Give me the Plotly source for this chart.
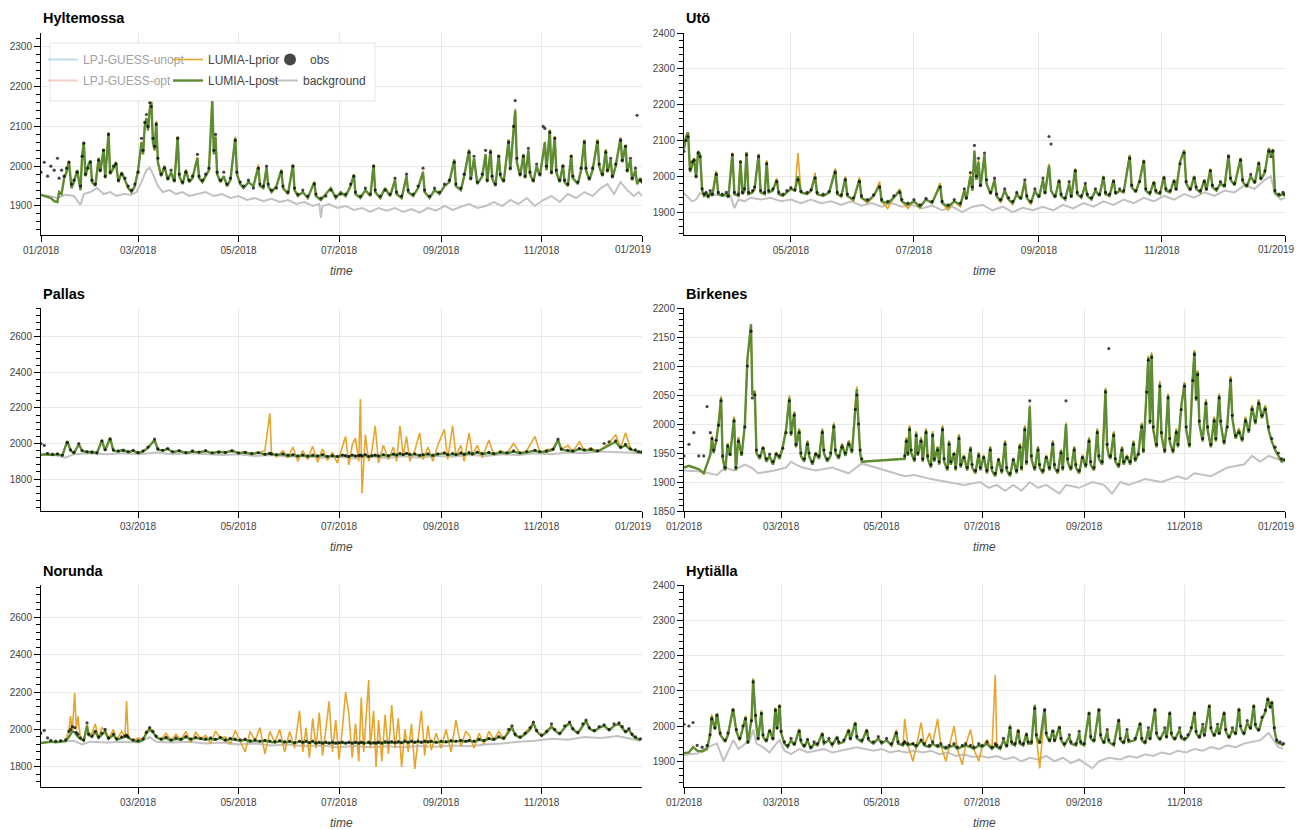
import numpy as np
import pandas as pd
import plotly.graph_objects as go

BASE = pd.Timestamp("2018-01-01")

# ---------------- Hyltemossa ----------------
hyl_days = [
    0, 2, 4, 6, 8, 10, 11, 12.5, 14, 15.5,
    17, 18.5, 20, 22, 24, 25, 26, 27, 28.5, 30,
    31, 33, 35, 36, 38, 39, 41, 42, 44, 45.5,
    47, 49, 51, 53, 55, 57, 59, 61, 62, 63,
    64, 65, 66, 67, 68, 69, 70, 71, 73, 75,
    77, 79, 81, 83, 84, 86, 88, 90, 92, 95,
    96, 98, 100, 102, 104, 105, 106, 107, 109, 111,
    113, 115, 118, 119, 121, 123, 126, 129, 132, 133,
    135, 137, 138, 140, 143, 146, 147, 150, 153, 154,
    156, 159, 162, 166, 167, 170, 173, 176, 179, 182,
    185, 188, 190, 191, 194, 197, 200, 202, 203, 206,
    209, 212, 215, 216, 219, 222, 223, 226, 229, 232,
    233, 236, 239, 242, 245, 248, 251, 252, 255, 257,
    260, 261, 263, 265, 268, 270, 271, 273, 274, 276,
    278, 279, 281, 284, 285, 287, 288, 289, 291, 293,
    294, 296, 297, 299, 301, 303, 305, 306, 307, 309,
    310, 312, 313, 315, 317, 318, 320, 322, 323, 326,
    328, 330, 331, 333, 335, 338, 339, 341, 343, 344,
    346, 347, 349, 352, 353, 355, 356, 358, 359, 361,
    362, 364, 365]
hyl_post = [
    1928, 1925, 1922, 1920, 1912, 1910, 1935, 1930, 1968, 1985,
    2011, 1945, 1960, 1990, 1940, 2028, 2060, 1975, 2000, 2015,
    1960, 1950, 2020, 1985, 2043, 1970, 2084, 1980, 1995, 2010,
    1960, 1985, 1965, 1945, 1935, 1950, 1990, 2060, 2030, 2100,
    2120, 2090, 2141, 2162, 2060, 2040, 2111, 2010, 1975, 2000,
    1965, 1985, 1960, 2074, 1975, 1955, 1990, 1960, 1970, 2021,
    1970, 1960, 1975, 1990, 2167, 2030, 2074, 1980, 1960, 1975,
    1950, 1965, 2071, 1980, 1955, 1945, 1960, 1950, 1998, 1950,
    1945, 1996, 1950, 1935, 1950, 1990, 1945, 1930, 2003, 1940,
    1925, 1935, 1920, 1960, 1925, 1915, 1930, 1945, 1920, 1935,
    1925, 1950, 1978, 1930, 1920, 1940, 1925, 2003, 1935, 1920,
    1945, 1925, 1965, 1930, 1920, 1975, 1935, 1925, 1945, 1985,
    1935, 1920, 1940, 1930, 1950, 1960, 2016, 1950, 1940, 1975,
    2041, 1965, 2020, 1955, 1975, 2030, 1960, 2041, 1970, 1950,
    2028, 1975, 1960, 2066, 1990, 2080, 2140, 2010, 1975, 2030,
    1970, 2040, 1980, 1960, 2000, 1975, 2040, 2060, 1990, 2091,
    1980, 2074, 1985, 1960, 2003, 1960, 1950, 2028, 1970, 1955,
    1990, 2066, 1990, 1965, 1990, 2066, 2000, 1975, 2041, 1985,
    2016, 1970, 2000, 2071, 2010, 2053, 1985, 2016, 1965, 1990,
    1955, 1970, 1960]
hyl_prior = [
    1928, 1925, 1922, 1920, 1912, 1910, 1935, 1930, 1968, 1990,
    2015, 1945, 1962, 1990, 1940, 2030, 2062, 1975, 2002, 2015,
    1960, 1952, 2022, 1985, 2045, 1970, 2086, 1980, 1995, 2012,
    1960, 1985, 1965, 1945, 1935, 1950, 1992, 2062, 2030, 2100,
    2122, 2090, 2145, 2165, 2060, 2040, 2114, 2010, 1975, 2002,
    1965, 1985, 1960, 2076, 1975, 1955, 1992, 1960, 1970, 2023,
    1970, 1960, 1975, 1990, 2170, 2030, 2076, 1980, 1960, 1975,
    1950, 1965, 2074, 1980, 1955, 1945, 1960, 1950, 2005, 1950,
    1945, 1998, 1950, 1935, 1950, 1992, 1945, 1930, 2005, 1940,
    1925, 1935, 1920, 1962, 1925, 1915, 1930, 1945, 1920, 1935,
    1925, 1950, 1980, 1930, 1920, 1940, 1925, 2005, 1935, 1920,
    1945, 1925, 1967, 1930, 1920, 1977, 1935, 1925, 1945, 1988,
    1935, 1920, 1940, 1930, 1950, 1960, 2018, 1950, 1940, 1975,
    2043, 1965, 2020, 1955, 1975, 2030, 1960, 2043, 1970, 1950,
    2030, 1975, 1960, 2068, 1990, 2080, 2145, 2010, 1975, 2030,
    1970, 2040, 1980, 1960, 2000, 1975, 2040, 2062, 1990, 2093,
    1980, 2076, 1985, 1960, 2005, 1960, 1950, 2030, 1970, 1955,
    1990, 2068, 1990, 1965, 1990, 2068, 2000, 1975, 2043, 1985,
    2016, 1970, 2000, 2073, 2010, 2055, 1985, 2016, 1965, 1990,
    1955, 1970, 1960]
hyl_obs = [
    1985, 2010, 1975, 2000, 1990, 2020, 1970, 1990, 1975, 1995,
    2010, 1955, 1965, 1985, 1950, 2025, 2058, 1980, 1995, 2010,
    1965, 1955, 2015, 1990, 2040, 1975, 2080, 1985, 2000, 2005,
    1965, 1980, 1970, 1950, 1940, 1955, 1985, 2070, 2040, 2110,
    2130, 2100, 2160, 2150, 2070, 2050, 2105, 2020, 1980, 1995,
    1970, 1990, 1965, 2070, 1980, 1960, 1985, 1965, 1975, 2030,
    1975, 1965, 1980, 1995, 2165, 2040, 2080, 1985, 1965, 1985,
    1955, 1970, 2065, 1985, 1960, 1950, 1965, 1945, 1995, 1955,
    1950, 2000, 1955, 1940, 1945, 1985, 1950, 1935, 2000, 1945,
    1930, 1940, 1925, 1955, 1930, 1920, 1925, 1940, 1925, 1930,
    1930, 1955, 1975, 1935, 1925, 1945, 1930, 2000, 1940, 1925,
    1940, 1930, 1970, 1935, 1925, 1980, 1940, 1930, 1950, 1995,
    1940, 1925, 1945, 1935, 1955, 1965, 2010, 1955, 1945, 1980,
    2035, 1970, 2025, 1960, 1980, 2040, 1965, 2035, 1975, 1955,
    2025, 1980, 1965, 2060, 1995, 2100, 2165, 2020, 1980, 2025,
    1975, 2045, 1985, 1965, 2005, 1980, 2100, 2095, 2000, 2085,
    1985, 2070, 1990, 1965, 2000, 1965, 1955, 2025, 1975, 1960,
    1995, 2060, 1995, 1970, 1995, 2060, 2005, 1980, 2035, 1990,
    2020, 1975, 2005, 2065, 2015, 2050, 1990, 2020, 1970, 1995,
    2128, 1965, 1960]
hyl_bg_days = [
    0, 5, 10, 15, 20, 24, 26, 30, 34, 38,
    42, 46, 50, 55, 58, 61, 64, 66, 68, 71,
    74, 78, 82, 86, 90, 95, 100, 105, 110, 115,
    120, 125, 130, 135, 140, 145, 150, 155, 160, 165,
    169, 170, 171, 175, 180, 185, 190, 195, 200, 205,
    210, 215, 220, 225, 230, 235, 240, 245, 250, 255,
    260, 265, 270, 275, 280, 285, 290, 295, 300, 305,
    310, 315, 320, 325, 330, 335, 340, 344, 348, 352,
    356, 360, 363, 365]
hyl_bg = [
    1928, 1925, 1920, 1928, 1925, 1903, 1930, 1935, 1945, 1930,
    1935, 1925, 1930, 1928, 1935, 1960, 1990, 1996, 1980, 1950,
    1935, 1940, 1930, 1935, 1925, 1930, 1935, 1925, 1930, 1920,
    1925, 1915, 1920, 1912, 1918, 1910, 1915, 1905, 1910, 1900,
    1905, 1870, 1900, 1905, 1895, 1900, 1890, 1895, 1885, 1895,
    1888, 1895, 1885, 1892, 1883, 1895, 1888, 1900, 1890, 1898,
    1905, 1895, 1900, 1910, 1900, 1915, 1905, 1920, 1900, 1915,
    1925, 1910, 1930, 1920, 1935, 1925, 1945, 1955, 1930, 1960,
    1940, 1925, 1935, 1925]

# ---------------- Utö ----------------
uto_days = [
    67, 68, 69, 70, 71, 72, 73, 74, 75, 76,
    77, 78, 79, 80, 81, 83, 84, 86, 88, 89,
    91, 92, 94, 95, 96, 97, 98, 99, 101, 102,
    104, 105, 107, 108, 109, 111, 113, 114, 116, 118,
    120, 122, 123.5, 125, 128, 130, 132, 133, 136, 139,
    142, 143, 145, 147, 148, 151, 154, 155, 158, 161,
    164, 165, 168, 171, 174, 175, 178, 181, 184, 187,
    190, 194, 195, 198, 201, 204, 206, 207, 209, 210,
    211, 212, 213, 214, 216, 217, 219, 221, 222, 224,
    226, 228, 230, 232, 234, 236, 237, 239, 241, 243,
    245, 246, 248, 249, 251, 253, 254, 256, 258, 259,
    261, 262, 264, 266, 267, 269, 271, 273, 275, 276,
    278, 280, 281, 283, 285, 288, 289, 291, 293, 295,
    296, 298, 300, 301, 303, 305, 306, 308, 310, 311,
    313, 315, 316, 318, 320, 321, 323, 325, 326, 328,
    329, 331, 333, 335, 337, 338, 340, 343, 344, 346,
    348, 350, 352, 353, 355, 357, 358, 359, 360, 362,
    364, 365]
uto_post = [
    2077, 2110, 2123, 2012, 2030, 2050, 1995, 2070, 2060, 1960,
    1945, 1950, 1940, 1955, 1945, 2011, 1950, 1945, 1950, 1940,
    2064, 1950, 1945, 2042, 1950, 1960, 2067, 1950, 1955, 1965,
    2061, 1955, 1950, 2040, 1955, 1960, 1990, 1950, 1945, 1955,
    1965, 1960, 2000, 1955, 1950, 1960, 2000, 1950, 1945, 1955,
    2017, 1950, 1945, 1995, 1945, 1935, 1990, 1940, 1930, 1945,
    1975, 1930, 1925, 1940, 1960, 1930, 1920, 1930, 1915, 1935,
    1925, 1975, 1925, 1915, 1930, 1920, 1960, 1935, 2000, 1960,
    2072, 1990, 2040, 1970, 2060, 1980, 1950, 1990, 1945, 1930,
    1960, 1935, 1925, 1950, 1935, 1985, 1940, 1925, 1960, 1940,
    1990, 1950, 2030, 1960, 1940, 1990, 1945, 1935, 1980, 1940,
    2020, 1950, 1940, 1975, 1945, 1935, 1960, 1945, 2000, 1950,
    1945, 1990, 1950, 1960, 1955, 2058, 1970, 1955, 1990, 2045,
    1960, 1950, 1985, 1955, 1950, 2000, 1960, 1955, 1990, 1960,
    2040, 2072, 1980, 1960, 2000, 1965, 1955, 1990, 1960, 2020,
    1970, 1960, 1980, 1970, 2060, 1990, 1975, 2050, 1985, 1970,
    2000, 1980, 2040, 1990, 2010, 2078, 2060, 2075, 1955, 1945,
    1950, 1945]
uto_prior = [
    2077, 2110, 2123, 2012, 2030, 2050, 1995, 2070, 2060, 1960,
    1945, 1950, 1940, 1955, 1945, 2015, 1950, 1945, 1950, 1940,
    2066, 1950, 1945, 2045, 1950, 1960, 2068, 1950, 1955, 1965,
    2063, 1955, 1950, 2045, 1955, 1960, 1995, 1950, 1945, 1955,
    1965, 1960, 2065, 1955, 1950, 1960, 2010, 1950, 1945, 1955,
    2022, 1950, 1940, 2000, 1945, 1930, 1998, 1940, 1925, 1945,
    1985, 1930, 1910, 1940, 1965, 1930, 1910, 1930, 1910, 1935,
    1925, 1982, 1925, 1905, 1930, 1915, 1965, 1935, 2005, 1960,
    2070, 1990, 2045, 1970, 2062, 1980, 1950, 1995, 1945, 1925,
    1962, 1935, 1920, 1955, 1935, 1990, 1940, 1920, 1962, 1940,
    1992, 1950, 2035, 1960, 1940, 1992, 1945, 1935, 1982, 1940,
    2022, 1950, 1940, 1978, 1945, 1935, 1962, 1945, 2002, 1950,
    1945, 1992, 1950, 1960, 1955, 2060, 1970, 1955, 1992, 2047,
    1960, 1950, 1987, 1955, 1950, 2002, 1960, 1955, 1992, 1960,
    2042, 2074, 1980, 1960, 2002, 1965, 1955, 1992, 1960, 2022,
    1970, 1960, 1982, 1970, 2062, 1990, 1975, 2052, 1985, 1970,
    2002, 1980, 2042, 1990, 2012, 2080, 2060, 2077, 1955, 1945,
    1950, 1945]
uto_obs = [
    2070, 2100, 2110, 2020, 2040, 2045, 2000, 2065, 2055, 1965,
    1950, 1955, 1945, 1960, 1950, 2005, 1955, 1950, 1955, 1945,
    2060, 1955, 1950, 2040, 1955, 1965, 2060, 1955, 1960, 1970,
    2055, 1960, 1955, 2035, 1960, 1965, 1985, 1955, 1950, 1960,
    1968, 1962, 1990, 1958, 1955, 1962, 1995, 1955, 1950, 1958,
    2010, 1955, 1948, 1990, 1950, 1940, 1985, 1945, 1935, 1948,
    1970, 1935, 1930, 1945, 1955, 1935, 1925, 1935, 1920, 1938,
    1930, 1970, 1930, 1920, 1935, 1925, 1965, 1940, 2010, 1970,
    2086, 2000, 2050, 1975, 2065, 1990, 1955, 1995, 1950, 1935,
    1965, 1940, 1930, 1955, 1940, 1990, 1945, 1930, 1965, 1945,
    1995, 1955, 2111, 2090, 1945, 1985, 1950, 1940, 1985, 1945,
    2015, 1955, 1945, 1980, 1950, 1940, 1965, 1950, 1995, 1955,
    1950, 1985, 1955, 1965, 1960, 2050, 1975, 1960, 1985, 2040,
    1965, 1955, 1980, 1960, 1955, 1995, 1965, 1960, 1985, 1965,
    2035, 2065, 1985, 1965, 1995, 1970, 1960, 1985, 1965, 2015,
    1975, 1965, 1985, 1975, 2055, 1995, 1980, 2045, 1990, 1975,
    2005, 1985, 2035, 1995, 2015, 2070, 2055, 2070, 1960, 1950,
    1955, 1950]
uto_bg_days = [
    67, 69, 71, 73, 75, 80, 85, 90, 92, 94,
    97, 100, 105, 110, 115, 120, 125, 130, 135, 140,
    145, 150, 155, 160, 165, 170, 175, 180, 185, 190,
    195, 200, 205, 210, 215, 220, 225, 230, 235, 240,
    245, 250, 255, 260, 265, 270, 275, 280, 285, 290,
    295, 300, 305, 310, 315, 320, 325, 330, 335, 340,
    345, 350, 355, 358, 360, 363, 365]
uto_bg = [
    1953, 1940, 1930, 1935, 1953, 1950, 1948, 1945, 1911, 1935,
    1930, 1940, 1935, 1940, 1930, 1935, 1925, 1935, 1925, 1930,
    1920, 1930, 1918, 1925, 1915, 1925, 1915, 1920, 1910, 1918,
    1905, 1915, 1900, 1915, 1920, 1905, 1915, 1900, 1912, 1905,
    1915, 1905, 1920, 1910, 1925, 1915, 1930, 1920, 1935, 1925,
    1940, 1930, 1945, 1935, 1950, 1940, 1955, 1945, 1960, 1955,
    1975, 1965, 1990, 2000, 1950, 1935, 1940]

# ---------------- Pallas ----------------
pal_days = [
    0, 2, 4, 7, 10, 13, 16, 18, 20, 23,
    25, 28, 31, 34, 37, 39, 42, 44, 47, 50,
    53, 56, 59, 62, 65, 69, 71, 74, 77, 80,
    84, 88, 92, 96, 100, 104, 108, 112, 116, 120,
    124, 128, 132, 136, 139, 140, 143, 147, 150, 153,
    156, 159, 162, 165, 168, 171, 174, 177, 180, 183,
    185, 187, 189, 191, 193, 194, 195, 197, 199, 201,
    203, 205, 208, 211, 214, 216, 218, 220, 222, 224,
    227, 230, 232, 235, 238, 241, 245, 247, 250, 252,
    255, 257, 260, 262, 265, 268, 272, 275, 279, 283,
    287, 291, 295, 300, 303, 307, 311, 314, 316, 320,
    323, 327, 330, 334, 338, 342, 345, 349, 352, 355,
    358, 361, 363, 365]
pal_post = [
    1935, 1940, 1938, 1935, 1940, 1932, 2014, 1960, 1945, 1995,
    1960, 1950, 1955, 1945, 2018, 1960, 2031, 1960, 1955, 1965,
    1950, 1960, 1945, 1955, 1975, 2020, 1965, 1960, 1970, 1950,
    1960, 1945, 1955, 1950, 1958, 1945, 1955, 1948, 1960, 1945,
    1950, 1940, 1950, 1938, 1945, 1940, 1935, 1940, 1930, 1935,
    1928, 1935, 1925, 1932, 1928, 1935, 1925, 1930, 1925, 1935,
    1930, 1925, 1935, 1928, 1930, 1935, 1930, 1935, 1925, 1930,
    1935, 1928, 1935, 1930, 1940, 1935, 1940, 1935, 1945, 1935,
    1940, 1930, 1935, 1940, 1930, 1940, 1945, 1935, 1940, 1935,
    1945, 1938, 1945, 1940, 1950, 1940, 1948, 1940, 1950, 1945,
    1955, 1945, 1950, 1960, 1950, 1955, 1965, 2020, 1965, 1960,
    1955, 1970, 1960, 1965, 1955, 1975, 1990, 2010, 1975, 1990,
    1965, 1960, 1950, 1955]
pal_prior = [
    1935, 1940, 1938, 1935, 1940, 1932, 2016, 1960, 1945, 1997,
    1960, 1950, 1955, 1945, 2020, 1960, 2033, 1960, 1955, 1965,
    1950, 1960, 1945, 1955, 1975, 2022, 1965, 1960, 1970, 1950,
    1960, 1945, 1955, 1950, 1958, 1945, 1955, 1948, 1962, 1945,
    1955, 1940, 1945, 1960, 2170, 1950, 1925, 1960, 1920, 1980,
    1900, 1960, 1910, 1985, 1895, 1970, 1905, 1950, 1890, 1975,
    2040, 1880, 1990, 2030, 1900, 2250, 1720, 2050, 1900, 1960,
    2100, 1890, 1990, 1910, 1980, 1900, 2100, 1930, 2040, 1900,
    1960, 2060, 1910, 1980, 1900, 1990, 2080, 1910, 2100, 1930,
    1990, 1900, 2060, 1935, 1990, 1920, 2020, 1935, 1960, 1945,
    2000, 1945, 1960, 2040, 1950, 1965, 1970, 2025, 1965, 1990,
    1955, 2010, 1960, 1975, 1955, 1980, 2000, 2050, 1975, 2060,
    1970, 1960, 1950, 1955]
pal_obs = [
    2000, 1990, 1945, 1940, 1942, 1935, 2005, 1965, 1950, 2000,
    1960, 1955, 1950, 1948, 2015, 1965, 2025, 1965, 1958, 1960,
    1955, 1962, 1950, 1958, 1980, 2025, 1970, 1962, 1972, 1955,
    1958, 1950, 1958, 1952, 1960, 1948, 1950, 1950, 1958, 1948,
    1950, 1945, 1948, 1940, 1945, 1942, 1938, 1942, 1935, 1938,
    1930, 1935, 1930, 1935, 1930, 1938, 1928, 1932, 1928, 1935,
    1932, 1928, 1935, 1930, 1932, 1935, 1930, 1938, 1928, 1932,
    1935, 1930, 1938, 1932, 1940, 1935, 1945, 1938, 1945, 1940,
    1942, 1935, 1938, 1942, 1935, 1942, 1948, 1938, 1945, 1938,
    1948, 1940, 1950, 1942, 1952, 1945, 1950, 1945, 1952, 1948,
    1958, 1948, 1955, 1962, 1955, 1958, 1968, 2025, 1970, 1962,
    1958, 1972, 1965, 1968, 1960, 2000, 2010, 2015, 1980, 1995,
    1970, 1965, 1955, 1950]
pal_bg_days = [
    0, 8, 15, 20, 30, 40, 50, 60, 70, 80,
    90, 100, 110, 120, 130, 140, 150, 160, 170, 180,
    190, 200, 210, 220, 230, 240, 250, 260, 270, 280,
    290, 300, 310, 320, 330, 340, 350, 360, 365]
pal_bg = [
    1935, 1935, 1920, 1940, 1945, 1940, 1945, 1940, 1950, 1940,
    1945, 1940, 1935, 1940, 1930, 1935, 1925, 1930, 1920, 1925,
    1915, 1925, 1918, 1928, 1920, 1930, 1925, 1935, 1930, 1940,
    1935, 1945, 1940, 1950, 1945, 1955, 1950, 1945, 1945]

# ---------------- Birkenes ----------------
bir_days = [
    0, 3, 6, 9, 12, 14, 16, 17, 18, 19.5,
    21, 22.5, 23.5, 25, 26.5, 28, 30.4, 31.5, 33, 35,
    37, 38.5, 40.7, 41.5, 43, 44, 46, 48, 50, 52,
    54, 56, 58, 60, 62, 64, 65, 67, 68, 70,
    71, 73, 75, 76, 78, 80, 82, 84, 85, 87,
    89, 91, 92, 94, 96, 98, 100, 102, 104, 105,
    106, 107, 108, 134, 135, 136, 137, 138, 140, 141,
    142, 144, 145, 147, 148, 150, 151, 152, 154, 155,
    157, 158, 160, 161, 162, 164, 165, 167, 168, 170,
    172, 174, 175, 177, 179, 180, 182, 184, 186, 187,
    189, 191, 193, 195, 196, 198, 200, 202, 204, 205,
    207, 208, 210, 211, 213, 215, 216, 218, 220, 222,
    224, 225, 227, 229, 230, 232, 233, 235, 237, 238,
    240, 242, 244, 246, 247, 249, 251, 252, 254, 256,
    257, 258, 259, 261, 262, 264, 266, 267, 269, 271,
    273, 274, 276, 278, 279, 281, 282, 283, 284, 285,
    287, 289, 290, 292, 294, 295, 297, 299, 300, 302,
    304, 305, 307, 309, 310, 311, 312, 313, 315, 317,
    318, 320, 322, 323, 325, 326, 328, 330, 332, 333,
    335, 337, 339, 341, 343, 345, 347, 349, 351, 353,
    355, 357, 359, 361, 363, 365]
bir_post = [
    1925, 1928, 1925, 1922, 1915, 1930, 1947, 1976, 1950, 1970,
    2000, 2045, 1941, 1920, 1965, 1945, 2010, 1920, 1975, 1945,
    2000, 2112, 2172, 2050, 2056, 1950, 1940, 1960, 1935, 1945,
    1930, 1950, 1940, 1960, 1990, 2045, 1980, 2020, 1960, 1990,
    1945, 1935, 1970, 1945, 1930, 1950, 1940, 1990, 1950, 1935,
    1945, 2000, 1950, 1940, 1965, 1945, 1970, 1950, 2030, 2060,
    2000, 1950, 1935, 1940, 1975, 1945, 1995, 1950, 1935, 1985,
    1945, 1975, 1935, 1990, 1940, 1925, 1985, 1935, 1960, 1930,
    1995, 1935, 1920, 1970, 1930, 1950, 1920, 1980, 1925, 1945,
    1920, 1960, 1925, 1915, 1950, 1920, 1945, 1915, 1960, 1920,
    1910, 1940, 1915, 1970, 1920, 1910, 1940, 1915, 1965, 1920,
    1995, 1930, 2030, 1940, 1920, 1960, 1925, 1915, 1945, 1920,
    1970, 1925, 1915, 1955, 1920, 2000, 1935, 1920, 1960, 1925,
    1915, 1945, 1925, 1975, 1930, 1920, 1990, 1940, 1930, 2060,
    1960, 1945, 1940, 1985, 1935, 1925, 1960, 1930, 1945, 1930,
    1970, 1935, 1950, 2000, 1950, 2060, 2115, 2000, 2120, 1990,
    1960, 2070, 1980, 1950, 2050, 1970, 1950, 1990, 1960, 2030,
    2070, 1990, 1960, 2080, 2125, 2040, 2090, 2000, 1970, 2040,
    1990, 1960, 2010, 1970, 2050, 2000, 1965, 2000, 2080, 2010,
    1975, 1990, 1970, 2010, 1985, 2030, 2000, 2040, 2010, 2030,
    1990, 1970, 1955, 1945, 1935, 1940]
bir_prior = [
    1925, 1928, 1925, 1922, 1915, 1930, 1950, 1980, 1950, 1972,
    2003, 2048, 1941, 1920, 1968, 1945, 2013, 1920, 1978, 1945,
    2003, 2108, 2168, 2050, 2058, 1950, 1940, 1962, 1935, 1945,
    1930, 1952, 1940, 1962, 1993, 2050, 1980, 2022, 1960, 1993,
    1945, 1935, 1972, 1945, 1930, 1952, 1940, 1993, 1950, 1935,
    1945, 2003, 1950, 1940, 1967, 1945, 1972, 1950, 2035, 2065,
    2000, 1950, 1935, 1940, 1978, 1945, 1998, 1950, 1935, 1988,
    1945, 1978, 1935, 1993, 1940, 1925, 1988, 1935, 1962, 1930,
    1998, 1935, 1920, 1972, 1930, 1952, 1920, 1983, 1925, 1947,
    1920, 1962, 1925, 1915, 1952, 1920, 1947, 1915, 1962, 1920,
    1910, 1942, 1915, 1972, 1920, 1910, 1942, 1915, 1967, 1920,
    1998, 1930, 2033, 1940, 1920, 1962, 1925, 1915, 1947, 1920,
    1972, 1925, 1915, 1957, 1920, 2003, 1935, 1920, 1962, 1925,
    1915, 1947, 1925, 1978, 1930, 1920, 1993, 1940, 1930, 2063,
    1960, 1945, 1940, 1988, 1935, 1925, 1962, 1930, 1947, 1930,
    1972, 1935, 1952, 2003, 1950, 2063, 2118, 2000, 2124, 1990,
    1960, 2075, 1980, 1950, 2053, 1970, 1950, 1993, 1960, 2033,
    2073, 1990, 1960, 2083, 2128, 2040, 2093, 2000, 1970, 2043,
    1990, 1960, 2013, 1970, 2053, 2000, 1965, 2003, 2083, 2010,
    1975, 1993, 1970, 2013, 1985, 2033, 2000, 2043, 2010, 2033,
    1990, 1970, 1955, 1945, 1935, 1940]
bir_obs = [
    1945, 1965, 1985, 1945, 1945, 2030, 1985, 1975, 1955, 1972,
    1998, 2040, 1945, 1925, 1962, 1948, 2005, 1925, 1970, 1950,
    1995, 2100, 2160, 2045, 2050, 1955, 1945, 1958, 1940, 1948,
    1935, 1948, 1945, 1958, 1985, 2040, 1985, 2015, 1965, 1985,
    1950, 1940, 1965, 1950, 1935, 1948, 1945, 1985, 1955, 1940,
    1950, 1995, 1955, 1945, 1960, 1950, 1965, 1955, 2025, 2050,
    2000, 1955, 1940, 1945, 1970, 1950, 1990, 1955, 1940, 1980,
    1950, 1970, 1940, 1985, 1945, 1930, 1980, 1940, 1955, 1935,
    1990, 1940, 1925, 1965, 1935, 1948, 1925, 1975, 1930, 1942,
    1925, 1955, 1930, 1920, 1945, 1925, 1942, 1920, 1955, 1925,
    1915, 1938, 1920, 1965, 1925, 1915, 1938, 1920, 1960, 1925,
    1990, 1935, 2040, 1945, 1925, 1955, 1930, 1920, 1942, 1925,
    1965, 1930, 1920, 1950, 1925, 2040, 1940, 1925, 1955, 1930,
    1920, 1942, 1930, 1970, 1935, 1925, 1985, 1945, 1935, 2055,
    1965, 2130, 1945, 1980, 1940, 1930, 1955, 1935, 1942, 1935,
    1965, 1940, 1948, 1995, 1955, 2055, 2110, 2005, 2115, 1995,
    1965, 2065, 1985, 1955, 2045, 1975, 1955, 1985, 1965, 2025,
    2065, 1995, 1965, 2075, 2120, 2045, 2085, 2005, 1975, 2035,
    1995, 1965, 2005, 1975, 2045, 2005, 1970, 1995, 2075, 2015,
    1980, 1985, 1975, 2005, 1990, 2025, 2005, 2035, 2015, 2025,
    1995, 1975, 1960, 1950, 1940, 1938]
bir_bg_days = [
    0, 10, 20, 25, 30, 37, 41, 45, 55, 62,
    65, 68, 72, 80, 90, 100, 108, 134, 140, 150,
    160, 170, 180, 185, 190, 195, 200, 205, 210, 215,
    220, 225, 228, 232, 240, 248, 255, 260, 265, 270,
    280, 290, 300, 305, 310, 320, 330, 340, 345, 350,
    355, 360, 365]
bir_bg = [
    1920, 1918, 1912, 1925, 1920, 1930, 1925, 1915, 1920, 1925,
    1935, 1930, 1925, 1920, 1925, 1915, 1932, 1910, 1912, 1905,
    1900, 1895, 1900, 1890, 1895, 1885, 1895, 1885, 1900, 1890,
    1895, 1885, 1880, 1895, 1890, 1900, 1895, 1880, 1900, 1895,
    1905, 1900, 1910, 1905, 1915, 1910, 1925, 1930, 1945, 1935,
    1945, 1940, 1935]

# ---------------- Norunda ----------------
nor_days = [
    0, 2, 4, 6, 9, 12, 15, 17, 18, 19,
    20.5, 21.5, 22.5, 24, 26, 28, 29, 31, 33, 35,
    37, 39, 41, 44, 46, 49, 51, 52, 53, 56,
    59, 62, 64, 66, 68, 70, 73, 76, 79, 82,
    85, 88, 91, 94, 97, 100, 103, 106, 109, 112,
    115, 118, 121, 124, 127, 130, 133, 136, 139, 142,
    145, 148, 151, 154, 157, 159, 161, 163, 165, 167,
    169, 171, 173, 175, 177, 179, 181, 183, 185, 187,
    189, 191, 193, 194.5, 196, 199, 200, 202, 203.5, 205,
    207, 209, 211, 213, 215, 217, 219, 221, 223, 225,
    227, 229, 231, 233, 235, 237, 240, 243, 246, 249,
    252, 255, 258, 260, 263, 266, 269, 272, 275, 278,
    281, 284, 286, 288, 291, 294, 297, 299, 301, 304,
    307, 310, 312, 315, 318, 321, 323, 326, 329, 331,
    333, 336, 339, 342, 345, 348, 351, 353, 355, 357,
    359, 361, 364]
nor_post = [
    1928, 1930, 1935, 1935, 1932, 1935, 1938, 1960, 1975, 1990,
    1985, 1970, 1960, 1950, 1940, 2020, 1970, 1960, 1990, 1955,
    1975, 1990, 1950, 1970, 1945, 1955, 1960, 1965, 1955, 1940,
    1935, 1945, 1980, 2000, 1985, 1960, 1945, 1955, 1940, 1950,
    1945, 1960, 1945, 1955, 1950, 1945, 1950, 1945, 1955, 1940,
    1950, 1945, 1940, 1945, 1935, 1940, 1935, 1940, 1935, 1930,
    1938, 1930, 1935, 1928, 1935, 1930, 1935, 1928, 1935, 1925,
    1930, 1925, 1930, 1925, 1930, 1925, 1928, 1930, 1925, 1930,
    1925, 1930, 1925, 1930, 1925, 1930, 1925, 1928, 1925, 1930,
    1925, 1930, 1928, 1932, 1928, 1932, 1928, 1935, 1930, 1935,
    1930, 1935, 1930, 1935, 1932, 1935, 1930, 1935, 1932, 1938,
    1935, 1940, 1935, 1940, 1935, 1945, 1940, 1950, 1945, 1960,
    1950, 1990, 2010, 1970, 1955, 1975, 2000, 2035, 1990, 1965,
    1985, 2015, 1995, 1975, 2010, 2035, 2000, 1980, 2020, 2045,
    2005, 1990, 2010, 2020, 1995, 2020, 2030, 2010, 1985, 2000,
    1970, 1955, 1945]
nor_prior = [
    1928, 1930, 1935, 1935, 1932, 1935, 1940, 2000, 2072, 1980,
    2195, 2000, 2070, 1950, 1940, 2025, 1970, 1980, 2030, 1955,
    2010, 1995, 1950, 2000, 1945, 1990, 1960, 2150, 1960, 1940,
    1955, 1945, 1990, 2010, 1990, 1960, 1945, 1980, 1940, 1975,
    1945, 1990, 1930, 1985, 1950, 1970, 1925, 1990, 1955, 1960,
    1920, 1995, 1940, 1880, 1990, 1940, 2010, 1870, 1990, 1930,
    2000, 1880, 1990, 1900, 2100, 1880, 2010, 1850, 2060, 1900,
    2090, 1860, 2000, 2150, 1880, 2050, 1840, 2000, 2200, 2080,
    1850, 2030, 1830, 2170, 1880, 2264, 1900, 2100, 1800, 2050,
    1830, 2080, 1870, 2130, 1900, 2060, 1800, 2000, 1880, 2030,
    1790, 1960, 2100, 1860, 2020, 1890, 1980, 1900, 2000, 1880,
    2050, 1910, 1990, 1970, 1900, 1980, 1920, 1990, 1945, 1990,
    1950, 2000, 2015, 1970, 1955, 1985, 2010, 2040, 1990, 1965,
    1990, 2020, 1995, 1975, 2015, 2040, 2000, 1980, 2020, 2045,
    2005, 1990, 2010, 2020, 1995, 2020, 2030, 2010, 1985, 2000,
    1970, 1955, 1945]
nor_obs = [
    1981, 1995, 1955, 1942, 1938, 1940, 1945, 1990, 2000, 2015,
    2010, 1985, 1975, 1955, 1945, 2035, 1975, 1965, 1990, 1960,
    1980, 2000, 1955, 1975, 1950, 1960, 1965, 1970, 1960, 1945,
    1940, 1950, 1985, 2010, 1990, 1965, 1950, 1958, 1945, 1955,
    1948, 1962, 1950, 1958, 1952, 1950, 1955, 1948, 1958, 1945,
    1952, 1948, 1945, 1948, 1940, 1945, 1938, 1942, 1938, 1935,
    1940, 1935, 1938, 1930, 1938, 1932, 1938, 1930, 1938, 1928,
    1932, 1928, 1932, 1928, 1932, 1928, 1930, 1932, 1928, 1932,
    1928, 1932, 1928, 1932, 1928, 1932, 1928, 1930, 1928, 1932,
    1928, 1935, 1932, 1935, 1930, 1935, 1930, 1938, 1932, 1938,
    1932, 1938, 1932, 1938, 1935, 1938, 1932, 1938, 1935, 1940,
    1938, 1942, 1938, 1942, 1938, 1948, 1942, 1952, 1948, 1962,
    1955, 2000, 2020, 1975, 1960, 1980, 2010, 2040, 1995, 1970,
    1990, 2030, 2000, 1980, 2020, 2040, 2005, 1985, 2030, 2050,
    2010, 1995, 2015, 2025, 2000, 2030, 2035, 2015, 1990, 2005,
    1975, 1960, 1950]
nor_bg_days = [
    0, 10, 20, 25, 30, 40, 50, 60, 66, 70,
    80, 90, 100, 110, 120, 130, 140, 150, 160, 170,
    180, 190, 200, 210, 220, 230, 240, 250, 260, 270,
    280, 290, 300, 310, 320, 330, 340, 350, 358, 364]
nor_bg = [
    1928, 1935, 1940, 1920, 1935, 1930, 1935, 1930, 1960, 1935,
    1930, 1935, 1925, 1930, 1920, 1925, 1915, 1920, 1910, 1915,
    1905, 1912, 1905, 1910, 1905, 1912, 1908, 1915, 1910, 1920,
    1925, 1935, 1940, 1950, 1945, 1960, 1955, 1965, 1950, 1940]

# ---------------- Hytiälla ----------------
hyt_days = [
    0, 3, 5.5, 8, 11, 14, 15.8, 16.8, 18.8, 20,
    22, 25, 26.7, 29.8, 31.8, 33.8, 35.8, 37.4, 38.8, 41,
    42, 43.5, 45, 47, 48, 50, 52, 54, 55.5, 56.5,
    58, 59, 61, 63, 65, 67, 70, 71, 73, 75,
    77, 79, 81, 84, 85, 88, 90, 93, 94, 97,
    100, 101, 104, 105, 108, 111, 112, 115, 118, 120,
    123, 126, 129, 130, 133, 134, 136, 139, 141, 144,
    146, 149, 151, 154, 156, 159, 161, 164, 166, 169,
    171, 174, 176, 179, 181, 184, 187, 189, 190, 192,
    194, 196, 198, 199, 201, 203, 204, 206, 208, 209,
    211, 213, 214, 216, 219, 220, 222, 224, 225, 228,
    229, 231, 234, 235, 238, 240, 241, 243, 246, 247,
    249, 252, 253, 255, 257, 258, 261, 264, 265, 267,
    269, 270, 274, 277, 278, 280, 282, 283, 286, 287,
    289, 292, 293, 295, 296, 298, 301, 302, 304, 306,
    308, 310, 311, 313, 315, 316, 319, 320, 322, 324,
    325, 328, 329, 331, 333, 335, 337, 338, 340, 342,
    344, 346, 347, 349, 351, 353, 354.5, 356, 357, 358.5,
    360, 362, 364]
hyt_post = [
    1923, 1925, 1940, 1930, 1928, 1935, 1974, 2027, 1990, 2036,
    1975, 1955, 1975, 2050, 1985, 1960, 1995, 2025, 1950, 2020,
    2132, 2020, 1960, 2040, 1970, 1955, 1990, 1960, 2050, 1990,
    2060, 1980, 1950, 1940, 1960, 1945, 1990, 1955, 1940, 1960,
    1935, 1950, 1945, 1980, 1950, 1960, 1945, 1970, 1950, 1955,
    1990, 1960, 2010, 1965, 1955, 1990, 1960, 1950, 1965, 1950,
    1960, 1945, 1985, 1950, 1945, 1955, 1945, 1950, 1940, 1960,
    1945, 1940, 1950, 1940, 1945, 1935, 1940, 1945, 1935, 1940,
    1945, 1940, 1935, 1945, 1940, 1950, 1935, 1945, 1940, 1935,
    1960, 1940, 2000, 1950, 1945, 1990, 1950, 1945, 1980, 1950,
    1950, 2060, 1970, 1950, 2050, 1975, 1955, 1990, 1955, 2000,
    1960, 1945, 1970, 1950, 1945, 1980, 1950, 1945, 2040, 1965,
    1955, 2050, 1970, 1950, 1985, 1955, 1945, 2020, 1960, 1950,
    1985, 1955, 1960, 2010, 1960, 1950, 1990, 1960, 2050, 1975,
    1960, 1990, 1965, 2040, 1975, 1960, 1990, 1965, 1960, 1970,
    1990, 2040, 1980, 1965, 2000, 1970, 2060, 1990, 1970, 2000,
    1975, 2040, 1985, 1965, 1990, 1975, 2050, 1995, 1975, 2010,
    1990, 2060, 2000, 1985, 2020, 2040, 2080, 2050, 2070, 1990,
    1955, 1950, 1945]
hyt_prior = [
    1923, 1925, 1942, 1930, 1928, 1935, 1980, 2033, 1995, 2035,
    1978, 1955, 1978, 2048, 1985, 1960, 1998, 2030, 1950, 2022,
    2135, 2020, 1960, 2045, 1970, 1955, 1992, 1960, 2052, 1990,
    2062, 1980, 1950, 1940, 1960, 1945, 1992, 1955, 1940, 1960,
    1935, 1950, 1945, 1982, 1950, 1960, 1945, 1972, 1950, 1955,
    1992, 1960, 2012, 1965, 1955, 1992, 1960, 1950, 1965, 1950,
    1960, 1945, 1990, 1950, 1945, 2020, 1945, 1900, 1940, 2010,
    1945, 1980, 1950, 2020, 1945, 1900, 1940, 2000, 1935, 1890,
    1945, 1990, 1935, 1900, 1940, 1960, 1935, 2145, 1940, 1935,
    1965, 1940, 2005, 1950, 1945, 1992, 1950, 1945, 1982, 1950,
    1950, 2055, 1970, 1880, 2045, 1975, 1955, 1985, 1955, 1995,
    1960, 1945, 1970, 1950, 1945, 1980, 1950, 1945, 2040, 1965,
    1955, 2048, 1970, 1950, 1985, 1955, 1945, 2020, 1960, 1950,
    1985, 1955, 1960, 2012, 1960, 1950, 1990, 1960, 2052, 1975,
    1960, 1990, 1965, 2042, 1975, 1960, 1990, 1965, 1960, 1970,
    1990, 2042, 1980, 1965, 2000, 1970, 2062, 1990, 1970, 2000,
    1975, 2042, 1985, 1965, 1990, 1975, 2052, 1995, 1975, 2010,
    1990, 2062, 2000, 1985, 2020, 2040, 2082, 2050, 2072, 1990,
    1955, 1950, 1945]
hyt_obs = [
    2005, 2000, 2010, 1945, 1940, 1945, 1975, 2020, 1995, 2030,
    1980, 1960, 1980, 2045, 1990, 1965, 2000, 2020, 1955, 2015,
    2125, 2030, 1965, 2035, 1975, 1960, 1985, 1965, 2045, 1995,
    2055, 1985, 1955, 1945, 1965, 1950, 1985, 1960, 1945, 1962,
    1940, 1955, 1950, 1975, 1955, 1965, 1950, 1965, 1955, 1960,
    1985, 1965, 2005, 1970, 1960, 1985, 1965, 1955, 1970, 1955,
    1965, 1950, 1980, 1955, 1950, 1955, 1950, 1950, 1945, 1960,
    1950, 1945, 1955, 1945, 1950, 1940, 1945, 1950, 1940, 1945,
    1950, 1945, 1940, 1950, 1945, 1955, 1940, 1950, 1945, 1940,
    1965, 1945, 1995, 1955, 1950, 1985, 1955, 1950, 1975, 1955,
    1955, 2050, 1975, 1955, 2045, 1980, 1960, 1985, 1960, 1995,
    1965, 1950, 1975, 1955, 1950, 1985, 1955, 1950, 2035, 1970,
    1960, 2045, 1975, 1955, 1990, 1960, 1950, 2015, 1965, 1955,
    1990, 1960, 1965, 2005, 1965, 1955, 1995, 1965, 2045, 1980,
    1965, 1995, 1970, 2035, 1980, 1965, 1995, 1970, 1965, 1975,
    1995, 2035, 1985, 1970, 2005, 1975, 2055, 1995, 1975, 2005,
    1980, 2035, 1990, 1970, 1995, 1980, 2045, 2000, 1980, 2015,
    1995, 2055, 2005, 1990, 2025, 2045, 2075, 2055, 2065, 1995,
    1960, 1955, 1950]
hyt_bg_days = [
    0, 3, 8, 12, 17, 20, 24, 27, 30, 33,
    37, 40, 42, 44, 48, 52, 56, 58, 61, 65,
    70, 75, 80, 85, 90, 95, 100, 105, 110, 115,
    120, 125, 130, 135, 140, 145, 150, 155, 160, 165,
    170, 175, 180, 185, 190, 195, 200, 205, 210, 215,
    220, 225, 230, 235, 240, 245, 248, 252, 258, 265,
    270, 275, 280, 285, 290, 295, 300, 305, 310, 315,
    320, 325, 330, 335, 340, 345, 350, 355, 358, 361,
    364]
hyt_bg = [
    1917, 1920, 1922, 1935, 1945, 1950, 1900, 1930, 1960, 1935,
    1950, 1960, 1990, 1950, 1940, 1925, 1950, 1960, 1930, 1920,
    1935, 1925, 1930, 1935, 1925, 1930, 1935, 1940, 1935, 1930,
    1935, 1925, 1930, 1925, 1930, 1925, 1930, 1920, 1925, 1915,
    1920, 1912, 1915, 1910, 1915, 1905, 1912, 1900, 1910, 1905,
    1915, 1900, 1910, 1895, 1905, 1890, 1880, 1900, 1910, 1905,
    1915, 1910, 1920, 1915, 1925, 1920, 1930, 1925, 1935, 1930,
    1940, 1935, 1945, 1940, 1950, 1955, 1960, 1980, 1960, 1940,
    1935]

# ---------------- axes settings ----------------
TICKS_ALL = ["2018-01-01", "2018-03-01", "2018-05-01", "2018-07-01",
             "2018-09-01", "2018-11-01", "2019-01-01"]

stations = [
    dict(name="Hyltemossa", days=hyl_days, post=hyl_post, prior=hyl_prior, obs=hyl_obs,
         bgd=hyl_bg_days, bg=hyl_bg, yr=[1827, 2335], yt=[1900, 2000, 2100, 2200, 2300], mn=20,
         xr=["2018-01-01", "2019-01-01"], xt=TICKS_ALL),
    dict(name="Utö", days=uto_days, post=uto_post, prior=uto_prior, obs=uto_obs,
         bgd=uto_bg_days, bg=uto_bg, yr=[1836, 2400], yt=[1900, 2000, 2100, 2200, 2300, 2400], mn=20,
         xr=["2018-03-09", "2019-01-01"], xt=TICKS_ALL[2:]),
    dict(name="Pallas", days=pal_days, post=pal_post, prior=pal_prior, obs=pal_obs,
         bgd=pal_bg_days, bg=pal_bg, yr=[1620, 2763], yt=[1800, 2000, 2200, 2400, 2600], mn=40,
         xr=["2018-01-01 01:00", "2019-01-01"], xt=TICKS_ALL[1:]),
    dict(name="Birkenes", days=bir_days, post=bir_post, prior=bir_prior, obs=bir_obs,
         bgd=bir_bg_days, bg=bir_bg, yr=[1850, 2200],
         yt=[1850, 1900, 1950, 2000, 2050, 2100, 2150, 2200], mn=10,
         xr=["2018-01-01", "2019-01-01"], xt=TICKS_ALL),
    dict(name="Norunda", days=nor_days, post=nor_post, prior=nor_prior, obs=nor_obs,
         bgd=nor_bg_days, bg=nor_bg, yr=[1693, 2771], yt=[1800, 2000, 2200, 2400, 2600], mn=40,
         xr=["2018-01-01 01:00", "2018-12-31 23:00"], xt=TICKS_ALL[1:6]),
    dict(name="Hytiälla", days=hyt_days, post=hyt_post, prior=hyt_prior, obs=hyt_obs,
         bgd=hyt_bg_days, bg=hyt_bg, yr=[1827, 2400], yt=[1900, 2000, 2100, 2200, 2300, 2400], mn=20,
         xr=["2018-01-01", "2018-12-31 23:00"], xt=TICKS_ALL[:6]),
]

# page offset of the figure inside the browser page (body margin)
OFF = 8
W, H = 1305 - OFF, 830 - OFF
COLS = [(41, 642), (684, 1285)]
ROWS = [(33, 235), (308, 511), (585, 787)]
TITLE_Y = [18, 294, 571]
TIME_Y = [271, 547, 823]

C_PRIOR = "#e6a52e"
C_POST = "#5d8c34"
C_BG = "#c2c2c2"
FONT = "Liberation Sans, Arial, Helvetica, sans-serif"


def px(x):
    return (x - OFF) / W


def py(y):
    return 1 - (y - OFF) / H


def to_time(days):
    return BASE + pd.to_timedelta(np.asarray(days, dtype=float), unit="D")


fig = go.Figure()
layout = dict(
    template="none",
    width=W, height=H, margin=dict(l=0, r=0, t=0, b=0, autoexpand=False),
    paper_bgcolor="white", plot_bgcolor="white",
    font=dict(family=FONT, color="#444444", size=10),
    annotations=[], shapes=[], showlegend=True,
)

for i, st in enumerate(stations):
    assert len(st["days"]) == len(st["post"]) == len(st["prior"]) == len(st["obs"]), st["name"]
    assert len(st["bgd"]) == len(st["bg"]), st["name"]
    row, col = divmod(i, 2)
    suf = "" if i == 0 else str(i + 1)
    xa, ya = "x" + suf, "y" + suf
    first = i == 0
    t = to_time(st["days"])
    tb = to_time(st["bgd"])

    if first:
        fig.add_trace(go.Scatter(x=to_time([0]), y=[None], mode="lines", name="LPJ-GUESS-unopt",
                                 line=dict(color="#7fbfe0", width=2), visible="legendonly",
                                 legend="legend", legendgroup="unopt", xaxis=xa, yaxis=ya))
        fig.add_trace(go.Scatter(x=to_time([0]), y=[None], mode="lines", name="LPJ-GUESS-opt",
                                 line=dict(color="#f59a9a", width=2), visible="legendonly",
                                 legend="legend", legendgroup="opt", xaxis=xa, yaxis=ya))
    fig.add_trace(go.Scatter(x=tb, y=st["bg"], mode="lines", name="background",
                             line=dict(color=C_BG, width=2), legend="legend3", legendgroup="bg",
                             showlegend=first, xaxis=xa, yaxis=ya))
    fig.add_trace(go.Scatter(x=t, y=st["prior"], mode="lines", name="LUMIA-Lprior",
                             line=dict(color=C_PRIOR, width=1.6), legend="legend2", legendgroup="prior",
                             legendrank=1, showlegend=first, xaxis=xa, yaxis=ya))
    fig.add_trace(go.Scatter(x=t, y=st["post"], mode="lines", name="LUMIA-Lpost",
                             line=dict(color=C_POST, width=2.4), legend="legend2", legendgroup="post",
                             legendrank=2, showlegend=first, xaxis=xa, yaxis=ya))
    fig.add_trace(go.Scatter(x=t, y=st["obs"], mode="markers", name="obs",
                             marker=dict(color="rgba(0,0,0,0.72)", size=3.2), legend="legend4",
                             legendgroup="obs", showlegend=first, xaxis=xa, yaxis=ya))

    x0, x1 = COLS[col]
    y0, y1 = ROWS[row]
    ticktext = [pd.Timestamp(v).strftime("%m/%Y") for v in st["xt"]]
    if st["xt"][-1] == TICKS_ALL[-1]:
        last = ticktext[-1]
        ticktext[-1] = ""
        layout["annotations"].append(dict(
            text=last, xref="paper", yref="paper", x=px(x1 - 9), y=py(y1 + 15),
            xanchor="center", yanchor="middle", showarrow=False,
            font=dict(size=10, color="#444444", family=FONT)))
    layout["xaxis" + suf] = dict(
        domain=[px(x0), px(x1)], anchor=ya, type="date", range=st["xr"],
        tickvals=st["xt"], ticktext=ticktext, ticks="outside", ticklen=6,
        tickcolor="black", showline=True, linecolor="black", linewidth=1,
        showgrid=True, gridcolor="#e9e9e9", zeroline=False, automargin=False,
        tickfont=dict(size=10, color="#444444", family=FONT),
    )
    layout["yaxis" + suf] = dict(
        domain=[py(y1), py(y0)], anchor=xa, range=st["yr"],
        tickvals=st["yt"], ticks="outside", ticklen=6, tickcolor="black",
        showline=True, linecolor="black", linewidth=1, automargin=False,
        showgrid=True, gridcolor="#e9e9e9", zeroline=False,
        tickfont=dict(size=10, color="#444444", family=FONT),
        minor=dict(dtick=st["mn"], tick0=st["yt"][0], ticks="outside", ticklen=4,
                   tickcolor="black", showgrid=False),
    )
    layout["annotations"].append(dict(
        text="<b>" + st["name"] + "</b>", xref="paper", yref="paper",
        x=px(x0), y=py(TITLE_Y[row]), xanchor="left", yanchor="middle",
        showarrow=False, font=dict(size=14.5, color="black", family=FONT)))
    layout["annotations"].append(dict(
        text="<i>time</i>", xref="paper", yref="paper",
        x=px((x0 + x1) / 2), y=py(TIME_Y[row]), xanchor="center", yanchor="middle",
        showarrow=False, font=dict(size=12, color="#444444", family=FONT)))

# legend box and top rule
layout["shapes"].append(dict(type="rect", xref="paper", yref="paper",
                             x0=px(50), x1=px(375), y0=py(101), y1=py(43),
                             fillcolor="rgba(255,255,255,0.95)", line=dict(color="#e5e5e5", width=1),
                             layer="above"))
layout["shapes"].append(dict(type="line", xref="paper", yref="paper",
                             x0=0, x1=1, y0=py(5), y1=py(5),
                             line=dict(color="#e6e6e6", width=1)))

leg_common = dict(yanchor="top", xanchor="left", bgcolor="rgba(0,0,0,0)", borderwidth=0,
                  font=dict(size=12, color="#444444", family=FONT), orientation="v",
                  itemwidth=30, tracegroupgap=2, y=py(45))
layout["legend"] = dict(leg_common, x=px(43))
layout["legend2"] = dict(leg_common, x=px(168))
layout["legend4"] = dict(leg_common, x=px(270), itemsizing="constant")
layout["legend3"] = dict(leg_common, x=px(263), y=py(66))

fig.update_layout(**layout)
fig.write_html("out.html")
